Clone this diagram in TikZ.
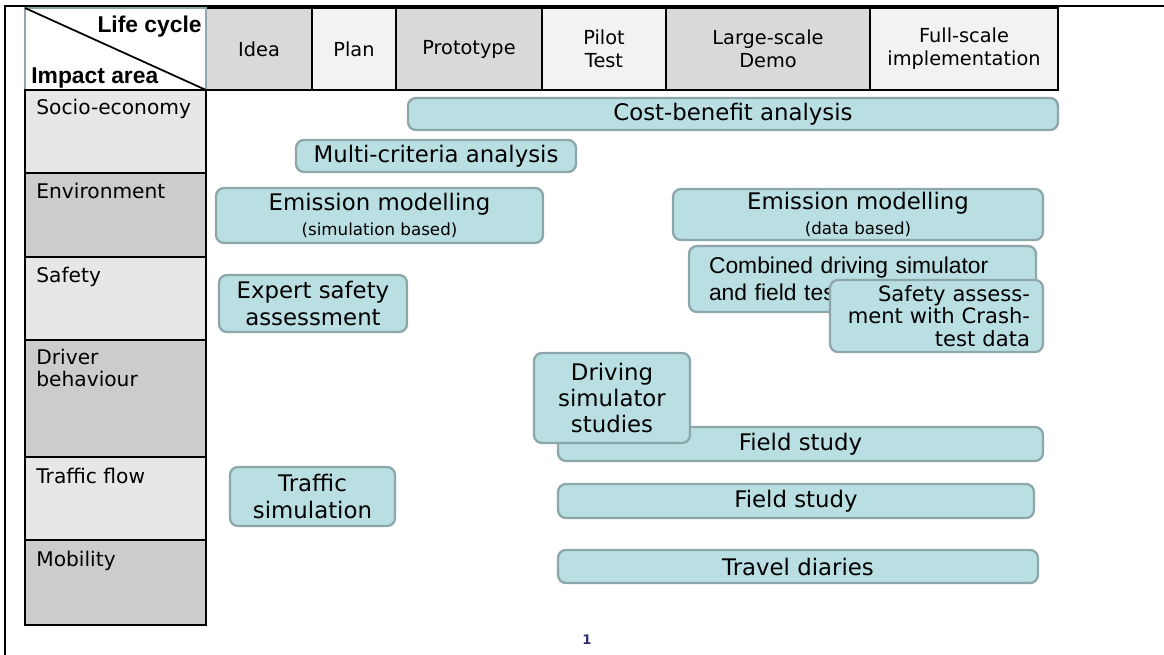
\documentclass[tikz,border=0pt]{standalone}
\usepackage{fontspec}
\setmainfont{DejaVu Sans}
\newfontfamily\arialfont{Liberation Sans}
\definecolor{hdark}{HTML}{D9D9D9}
\definecolor{hlight}{HTML}{F2F2F2}
\definecolor{rlight}{HTML}{E7E7E7}
\definecolor{rdark}{HTML}{CCCCCC}
\definecolor{cornerline}{HTML}{8FA9AC}
\definecolor{boxfill}{HTML}{B9DFE2}
\definecolor{boxline}{HTML}{8CA6A9}
\definecolor{pagenum}{HTML}{2E2E6E}
\tikzset{
  hcell/.style={draw=black,line width=0.9pt,minimum height=1.64cm,align=center,inner sep=0pt,font=\fontsize{11}{13}\selectfont},
  rcell/.style={draw=black,line width=0.9pt},
  rtext/.style={anchor=base west,inner sep=0pt,align=left,font=\fontsize{11.5}{13}\selectfont},
  method/.style={draw=boxline,fill=boxfill,line width=1.3pt,rounded corners=4.5pt,align=center,inner sep=0pt,font=\fontsize{13}{15}\selectfont},
}
\begin{document}
\begin{tikzpicture}[x=0.02cm,y=-0.02cm]
    \useasboundingbox (0,0) rectangle (1164,655);
    \draw[line width=1.2pt] (1164,6) -- (5,6) -- (5,655);

    % life cycle header
    \node[hcell,fill=hdark,minimum width=2.12cm] (idea) at (259,49) {Idea};
    \node[hcell,fill=hlight,minimum width=1.68cm] (plan) at (354,49) {Plan};
    \node[hcell,fill=hdark,minimum width=2.92cm] (proto) at (469,49) {Prototype};
    \node[hcell,fill=hlight,minimum width=2.48cm] (pilot) at (604,49) {Pilot\\Test};
    \node[hcell,fill=hdark,minimum width=4.08cm] (demo) at (768,49) {Large-scale\\Demo};
    \node[hcell,fill=hlight,minimum width=3.76cm] (full) at (964,49) {Full-scale\\implementation};

    % corner cell
    \draw[draw=cornerline,fill=white,line width=1.3pt] (25,8) rectangle (206,90);
    \coordinate (c1) at (25,8);
    \coordinate (c2) at (206,90);
    \draw[line width=1pt] (c1) -- (c2);
    \node[anchor=base east,inner sep=0pt,font=\arialfont\bfseries\fontsize{13}{15}\selectfont] (lc) at (202,33) {Life cycle};
    \node[anchor=base west,inner sep=0pt,font=\arialfont\bfseries\fontsize{13}{15}\selectfont] (ia) at (31,84) {Impact area};

    % impact areas
    \draw[rcell,fill=rlight] (25,90) rectangle (206,173);
    \draw[rcell,fill=rdark] (25,173) rectangle (206,257);
    \draw[rcell,fill=rlight] (25,257) rectangle (206,340);
    \draw[rcell,fill=rdark] (25,340) rectangle (206,457);
    \draw[rcell,fill=rlight] (25,457) rectangle (206,540);
    \draw[rcell,fill=rdark] (25,540) rectangle (206,625);
    \node[rtext] (socio) at (36,115) {Socio-economy};
    \node[rtext] (env) at (36,199) {Environment};
    \node[rtext] (safe) at (36,283) {Safety};
    \node[rtext] (driver) at (36,387) {Driver\\behaviour};
    \node[rtext] (flow) at (36,483) {Traffic flow};
    \node[rtext] (mob) at (36,566) {Mobility};

    % methods
    \node[method,minimum width=13cm,minimum height=0.64cm] (cba) at (733,114) {Cost-benefit analysis};
    \node[method,minimum width=5.6cm,minimum height=0.64cm] (mca) at (436,156) {Multi-criteria analysis};
    \node[method,minimum width=6.54cm,minimum height=1.1cm] (emsim) at (379.5,215.5) {Emission modelling\\[-1pt]{\fontsize{9.5}{11}\selectfont (simulation based)}};
    \node[method,minimum width=7.4cm,minimum height=1.02cm] (emdat) at (858,214.5) {Emission modelling\\[-1pt]{\fontsize{9.5}{11}\selectfont (data based)}};
    \node[method,minimum width=6.94cm,minimum height=1.32cm,text width=6.14cm,align=left,font=\arialfont\fontsize{13}{15.5}\selectfont] (comb) at (862.5,279) {Combined driving simulator\\and field tests};
    \node[method,minimum width=4.26cm,minimum height=1.44cm,text width=3.74cm,align=right,font=\fontsize{12}{12.8}\selectfont] (crash) at (936.5,316) {Safety assess-\\ment with Crash-\\test data};
    \node[method,minimum width=3.76cm,minimum height=1.14cm] (expert) at (313,303.5) {Expert safety\\assessment};
    \node[method,minimum width=9.7cm,minimum height=0.68cm] (fs1) at (800.5,444) {Field study};
    \node[method,minimum width=3.12cm,minimum height=1.8cm] (dss) at (612,398) {Driving\\simulator\\studies};
    \node[method,minimum width=3.3cm,minimum height=1.18cm] (traffic) at (312.5,496.5) {Traffic\\simulation};
    \node[method,minimum width=9.52cm,minimum height=0.68cm] (fs2) at (796,501) {Field study};
    \node[method,minimum width=9.6cm,minimum height=0.66cm] (diary) at (798,566.5) {Travel diaries};

    \node[text=pagenum,font=\bfseries\fontsize{7.5}{8}\selectfont] (page) at (587,640) {1};
\end{tikzpicture}
\end{document}
